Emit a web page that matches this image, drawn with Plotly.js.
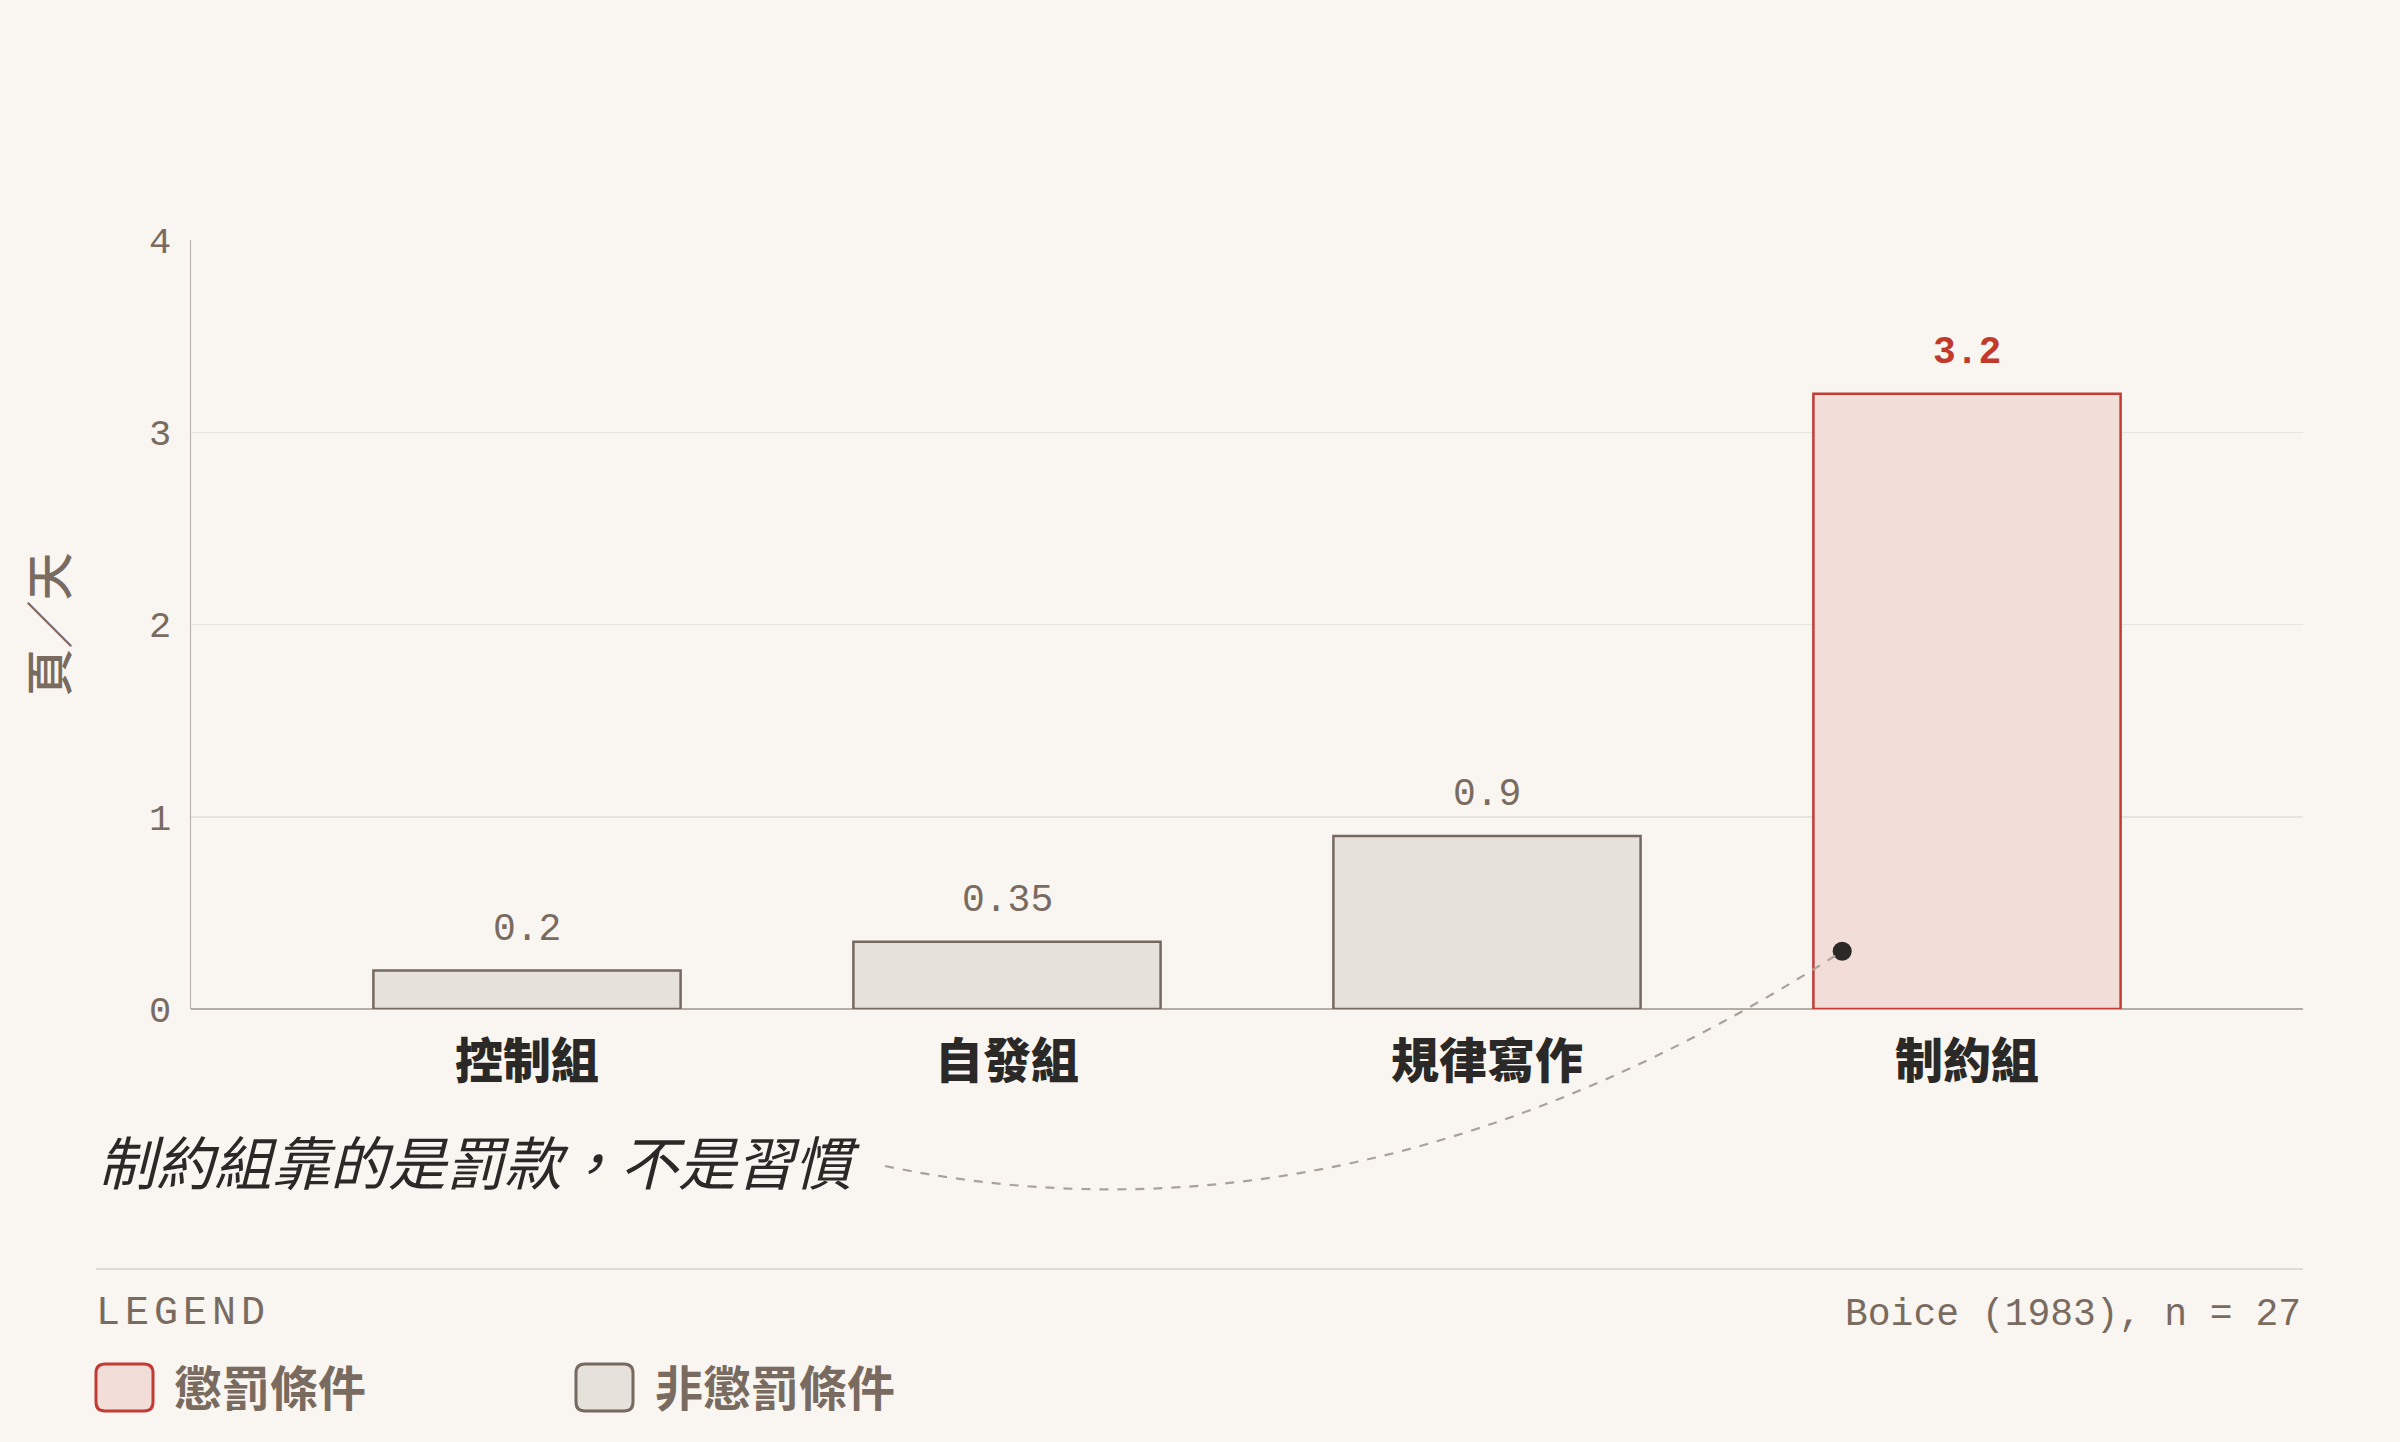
<!DOCTYPE html>
<html>
<head>
<meta charset="utf-8">
<script src="https://cdn.plot.ly/plotly-3.0.1.min.js"></script>
<style>
  html, body { margin: 0; padding: 0; background: #f9f6f2; }
  #chart { width: 2400px; height: 1442px; }
</style>
</head>
<body>
<div id="chart"></div>
<script>
// data
const categories = ['控制組', '自發組', '規律寫作', '制約組'];
const pagesPerDay = [0.2, 0.35, 0.9, 3.2];
const valueLabels = ['0.2', '0.35', '0.9', '3.2'];
const penalized = [false, false, false, true];
const yTicks = [0, 1, 2, 3, 4];
const legendLabels = ['懲罰條件', '非懲罰條件'];

// callout point inside the 制約組 bar
const calloutX = 2.74;
const calloutY = 0.3;

const MONO = 'Liberation Mono, DejaVu Sans Mono, monospace';
const CJK = 'Noto Sans CJK TC, Noto Sans CJK SC, sans-serif';
const INK = '#2b2927';
const MUTED = '#7a6b60';
const RED = '#c0392b';

const W = 2400, H = 1442;
const M = { l: 191, r: 97, t: 240, b: 433 };
const PW = W - M.l - M.r;
const PH = H - M.t - M.b;
const xRange = [-0.7, 3.7];
const yRange = [0, 4];

// pixel -> paper helpers for the decorations under the plot
const px = x => (x - M.l) / PW;
const py = y => (M.t + PH - y) / PH;
const dx = v => (v - xRange[0]) / (xRange[1] - xRange[0]);
const dy = v => (v - yRange[0]) / (yRange[1] - yRange[0]);

function roundRect(x0, y0, x1, y1, r) {
    // pixel coords in, paper path out
    const P = (x, y) => px(x) + ',' + py(y);
    return 'M' + P(x0 + r, y0) + ' L' + P(x1 - r, y0) + ' Q' + P(x1, y0) + ' ' + P(x1, y0 + r) +
        ' L' + P(x1, y1 - r) + ' Q' + P(x1, y1) + ' ' + P(x1 - r, y1) +
        ' L' + P(x0 + r, y1) + ' Q' + P(x0, y1) + ' ' + P(x0, y1 - r) +
        ' L' + P(x0, y0 + r) + ' Q' + P(x0, y0) + ' ' + P(x0 + r, y0) + ' Z';
}

const xs = categories.map((_, i) => i);

const bars = {
    type: 'bar',
    x: xs,
    y: pagesPerDay,
    width: 0.64,
    marker: {
        color: penalized.map(p => p ? '#f2ddd8' : '#e6e1db'),
        line: { color: penalized.map(p => p ? '#c23b35' : '#76695f'), width: 2.5 }
    },
    hoverinfo: 'skip',
    showlegend: false
};

const dot = {
    type: 'scatter',
    mode: 'markers',
    x: [calloutX],
    y: [calloutY],
    marker: { color: INK, size: 19 },
    hoverinfo: 'skip',
    showlegend: false
};

const annotations = xs.map(i => ({
    x: i,
    y: pagesPerDay[i],
    xref: 'x', yref: 'y',
    text: penalized[i] ? '<b>' + valueLabels[i] + '</b>' : valueLabels[i],
    showarrow: false,
    yanchor: 'bottom',
    yshift: 18,
    font: { family: MONO, size: 38, color: penalized[i] ? RED : MUTED }
}));

annotations.push(
    {
        xref: 'paper', yref: 'paper', x: px(96), y: py(1160),
        xanchor: 'left', yanchor: 'middle', showarrow: false,
        text: '制約組靠的是罰款，不是習慣',
        font: { family: CJK, size: 58, color: INK, style: 'italic' }
    },
    {
        xref: 'paper', yref: 'paper', x: px(94), y: py(1313),
        xanchor: 'left', yanchor: 'middle', showarrow: false,
        text: '<span style="letter-spacing:5px">LEGEND</span>',
        font: { family: MONO, size: 40, color: MUTED }
    },
    {
        xref: 'paper', yref: 'paper', x: px(2303), y: py(1314),
        xanchor: 'right', yanchor: 'middle', showarrow: false,
        text: 'Boice (1983), n = 27',
        font: { family: MONO, size: 38, color: MUTED }
    },
    {
        xref: 'paper', yref: 'paper', x: px(172), y: py(1385),
        xanchor: 'left', yanchor: 'middle', showarrow: false,
        text: legendLabels[0],
        font: { family: CJK, size: 48, color: MUTED, weight: 700 }
    },
    {
        xref: 'paper', yref: 'paper', x: px(653), y: py(1385),
        xanchor: 'left', yanchor: 'middle', showarrow: false,
        text: legendLabels[1],
        font: { family: CJK, size: 48, color: MUTED, weight: 700 }
    }
);

const shapes = [
    // curved dashed connector from the note to the dot
    {
        type: 'path', xref: 'paper', yref: 'paper',
        path: 'M' + px(885) + ',' + py(1166) + ' Q' + px(1355) + ',' + py(1264) + ' ' + dx(calloutX) + ',' + dy(calloutY),
        line: { color: '#aaa29a', width: 2.2, dash: 'dash' }
    },
    // separator above legend
    {
        type: 'line', xref: 'paper', yref: 'paper',
        x0: px(96), x1: px(2303), y0: py(1269), y1: py(1269),
        line: { color: '#e0dbd5', width: 2 }
    },
    {
        type: 'path', xref: 'paper', yref: 'paper',
        path: roundRect(96, 1364, 153, 1411, 9),
        fillcolor: '#f2ddd8', line: { color: '#c23b35', width: 3 }
    },
    {
        type: 'path', xref: 'paper', yref: 'paper',
        path: roundRect(576, 1364, 633, 1411, 9),
        fillcolor: '#e6e1db', line: { color: '#76695f', width: 3 }
    }
];

const layout = {
    width: W,
    height: H,
    paper_bgcolor: '#f9f6f2',
    plot_bgcolor: '#f9f6f2',
    margin: M,
    showlegend: false,
    xaxis: {
        range: xRange,
        tickvals: xs,
        ticktext: categories,
        showgrid: false,
        zeroline: false,
        showline: false,
        ticks: '',
        ticklabelstandoff: 20,
        tickfont: { family: CJK, size: 48, color: INK, weight: 900 },
        fixedrange: true
    },
    yaxis: {
        range: yRange,
        tickvals: yTicks,
        showgrid: true,
        gridcolor: '#e8e3de',
        gridwidth: 1.5,
        zeroline: true,
        zerolinecolor: '#b5ada5',
        zerolinewidth: 2,
        showline: true,
        linecolor: '#b5ada5',
        linewidth: 1.5,
        ticks: '',
        ticklabelstandoff: 11,
        tickfont: { family: MONO, size: 37, color: MUTED },
        title: {
            text: '頁／天',
            standoff: 66,
            font: { family: CJK, size: 48, color: MUTED, weight: 500 }
        },
        fixedrange: true
    },
    annotations: annotations,
    shapes: shapes
};

Plotly.newPlot('chart', [bars, dot], layout, { staticPlot: true });
</script>
</body>
</html>
